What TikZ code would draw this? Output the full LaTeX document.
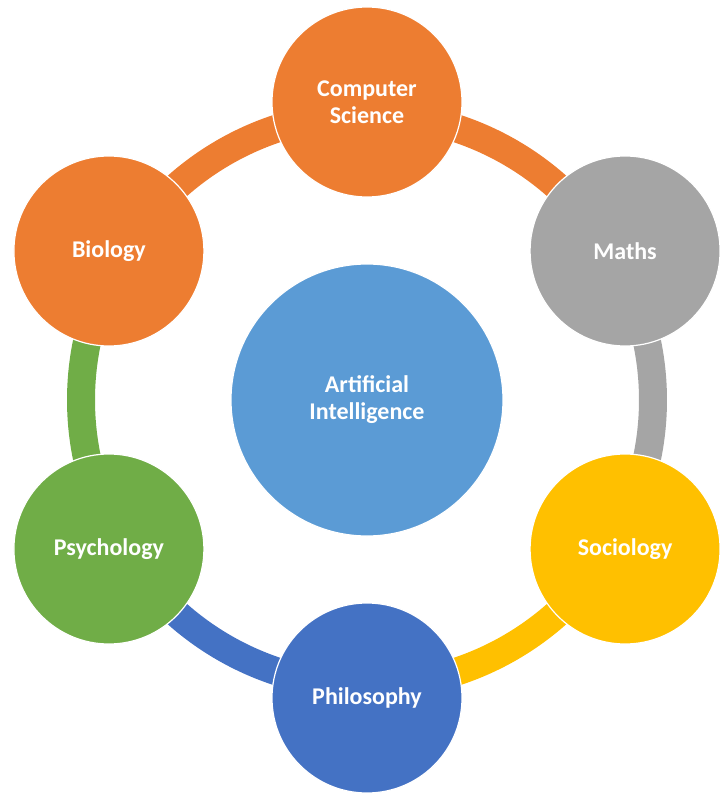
\documentclass[tikz,border=0pt]{standalone}
\usepackage{fontspec}
\setmainfont{Carlito}
\definecolor{aiorange}{HTML}{ED7D31}
\definecolor{aigray}{HTML}{A5A5A5}
\definecolor{aiyellow}{HTML}{FFC000}
\definecolor{aiblue}{HTML}{4472C4}
\definecolor{aigreen}{HTML}{70AD47}
\definecolor{aicentre}{HTML}{5B9BD5}
\tikzset{
	topic/.style={circle, fill=#1, draw=white, line width=1.2pt, minimum size=190pt, inner sep=0pt,
		text=white, align=center, font=\fontsize{24}{27}\selectfont\bfseries},
	ringarc/.style={draw=#1, line width=28pt}
}
\begin{document}
\begin{tikzpicture}[x=1pt, y=1pt]
		\useasboundingbox (-367,-393) rectangle (353,400);
		%ring behind the topics
		\foreach \a/\c in {90/aiorange, 30/aigray, -30/aiyellow, -90/aiblue, -150/aigreen, 150/aiorange}{
			\coordinate (r\a) at (\a:286);
			\draw[ringarc=\c] (r\a) arc[start angle=\a, end angle=\a-60, radius=286];
		}
		
		%topics
		\node[topic=aiorange] (cs) at (90:298){Computer\\Science};
		\node[topic=aigray] (maths) at (30:298){Maths};
		\node[topic=aiyellow] (sociology) at (-30:298){Sociology};
		\node[topic=aiblue] (philosophy) at (-90:298){Philosophy};
		\node[topic=aigreen] (psychology) at (-150:298){Psychology};
		\node[topic=aiorange] (biology) at (150:298){Biology};
		
		%centre
		\node[topic=aicentre, minimum size=272pt] (ai) at (0,0){Artificial\\Intelligence};
		\end{tikzpicture}
\end{document}
